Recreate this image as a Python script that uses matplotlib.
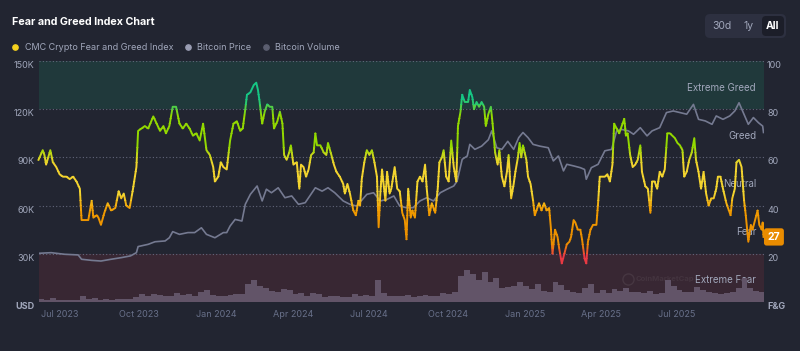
import matplotlib
matplotlib.use("Agg")
import matplotlib.pyplot as plt
import matplotlib.transforms as mtransforms
import pandas as pd
from matplotlib.colors import LinearSegmentedColormap
from matplotlib.lines import Line2D
from matplotlib.patches import FancyBboxPatch, Rectangle

plt.rcParams['font.family'] = ['Inter', 'DejaVu Sans']

# ---------------- data ----------------
fg_dates = [
    '2023-06-28', '2023-07-03', '2023-07-05', '2023-07-07', '2023-07-12', '2023-07-15', '2023-07-19',
    '2023-07-23', '2023-07-27', '2023-07-31', '2023-08-04', '2023-08-08', '2023-08-12', '2023-08-16',
    '2023-08-18', '2023-08-22', '2023-08-26', '2023-08-30', '2023-09-01', '2023-09-05', '2023-09-07',
    '2023-09-10', '2023-09-14', '2023-09-18', '2023-09-22', '2023-09-27', '2023-10-01', '2023-10-04',
    '2023-10-07', '2023-10-10', '2023-10-14', '2023-10-18', '2023-10-22', '2023-10-24', '2023-10-28',
    '2023-11-01', '2023-11-05', '2023-11-11', '2023-11-15', '2023-11-19', '2023-11-23', '2023-11-26',
    '2023-11-30', '2023-12-04', '2023-12-08', '2023-12-12', '2023-12-16', '2023-12-20', '2023-12-24',
    '2023-12-28', '2024-01-01', '2024-01-05', '2024-01-09', '2024-01-13', '2024-01-17', '2024-01-21',
    '2024-01-23', '2024-01-27', '2024-01-30', '2024-02-02', '2024-02-06', '2024-02-10', '2024-02-14',
    '2024-02-18', '2024-02-22', '2024-02-25', '2024-02-28', '2024-03-01', '2024-03-05', '2024-03-09',
    '2024-03-12', '2024-03-14', '2024-03-16', '2024-03-19', '2024-03-22', '2024-03-25', '2024-03-28',
    '2024-03-31', '2024-04-02', '2024-04-06', '2024-04-09', '2024-04-12', '2024-04-14', '2024-04-17',
    '2024-04-20', '2024-04-22', '2024-04-25', '2024-04-29', '2024-05-02', '2024-05-04', '2024-05-07',
    '2024-05-10', '2024-05-13', '2024-05-16', '2024-05-19', '2024-05-21', '2024-05-23', '2024-05-27',
    '2024-05-31', '2024-06-03', '2024-06-05', '2024-06-09', '2024-06-12', '2024-06-15', '2024-06-19',
    '2024-06-23', '2024-06-25', '2024-06-28', '2024-07-01', '2024-07-05', '2024-07-08', '2024-07-11',
    '2024-07-13', '2024-07-15', '2024-07-18', '2024-07-21', '2024-07-24', '2024-07-27', '2024-07-30',
    '2024-08-02', '2024-08-04', '2024-08-06', '2024-08-08', '2024-08-12', '2024-08-14', '2024-08-17',
    '2024-08-19', '2024-08-23', '2024-08-26', '2024-08-29', '2024-09-01', '2024-09-04', '2024-09-06',
    '2024-09-08', '2024-09-11', '2024-09-13', '2024-09-16', '2024-09-19', '2024-09-22', '2024-09-25',
    '2024-09-28', '2024-09-30', '2024-10-03', '2024-10-06', '2024-10-10', '2024-10-13', '2024-10-15',
    '2024-10-18', '2024-10-20', '2024-10-23', '2024-10-26', '2024-10-29', '2024-11-01', '2024-11-04',
    '2024-11-06', '2024-11-09', '2024-11-11', '2024-11-14', '2024-11-18', '2024-11-20', '2024-11-23',
    '2024-11-25', '2024-11-28', '2024-12-01', '2024-12-04', '2024-12-07', '2024-12-09', '2024-12-12',
    '2024-12-15', '2024-12-17', '2024-12-20', '2024-12-23', '2024-12-25', '2024-12-28', '2024-12-31',
    '2025-01-03', '2025-01-05', '2025-01-08', '2025-01-11', '2025-01-13', '2025-01-16', '2025-01-18',
    '2025-01-20', '2025-01-22', '2025-01-26', '2025-01-28', '2025-01-31', '2025-02-03', '2025-02-05',
    '2025-02-08', '2025-02-10', '2025-02-13', '2025-02-16', '2025-02-19', '2025-02-22', '2025-02-24',
    '2025-02-26', '2025-03-01', '2025-03-04', '2025-03-06', '2025-03-09', '2025-03-12', '2025-03-15',
    '2025-03-18', '2025-03-20', '2025-03-23', '2025-03-25', '2025-03-28', '2025-03-31', '2025-04-02',
    '2025-04-05', '2025-04-07', '2025-04-09', '2025-04-12', '2025-04-15', '2025-04-19', '2025-04-21',
    '2025-04-23', '2025-04-26', '2025-04-29', '2025-05-02', '2025-05-05', '2025-05-08', '2025-05-10',
    '2025-05-13', '2025-05-16', '2025-05-19', '2025-05-22', '2025-05-24', '2025-05-26', '2025-05-29',
    '2025-06-01', '2025-06-04', '2025-06-07', '2025-06-10', '2025-06-12', '2025-06-16', '2025-06-19',
    '2025-06-22', '2025-06-24', '2025-06-27', '2025-06-30', '2025-07-03', '2025-07-06', '2025-07-09',
    '2025-07-12', '2025-07-15', '2025-07-18', '2025-07-21', '2025-07-24', '2025-07-27', '2025-07-30',
    '2025-08-01', '2025-08-04', '2025-08-07', '2025-08-10', '2025-08-13', '2025-08-15', '2025-08-18',
    '2025-08-21', '2025-08-24', '2025-08-27', '2025-08-30', '2025-09-02', '2025-09-05', '2025-09-08',
    '2025-09-10', '2025-09-13', '2025-09-16', '2025-09-20', '2025-09-22', '2025-09-25', '2025-09-27',
    '2025-09-30', '2025-10-02', '2025-10-05', '2025-10-08', '2025-10-11', '2025-10-13', '2025-10-16',
    '2025-10-19', '2025-10-21', '2025-10-24', '2025-10-27', '2025-10-29', '2025-11-01', '2025-11-02',
    '2025-11-03',
]
fg_values = [
    59, 63, 61, 57, 63, 58, 56, 53, 52, 52, 51, 52, 50, 47,
    34, 34, 34, 42, 35, 36, 35, 32, 37, 41, 38, 39, 46, 43,
    45, 40, 39, 47, 56, 71, 72, 73, 72, 77, 74, 71, 73, 70,
    73, 81, 81, 74, 72, 74, 72, 69, 70, 67, 74, 63, 61, 56,
    50, 52, 58, 56, 55, 67, 74, 75, 71, 72, 80, 86, 87, 90,
    91, 88, 83, 74, 79, 82, 81, 81, 72, 75, 79, 74, 61, 59,
    62, 65, 57, 58, 47, 57, 56, 52, 55, 61, 62, 70, 65, 65,
    62, 61, 66, 61, 57, 54, 52, 49, 45, 49, 45, 38, 36, 42,
    40, 51, 58, 63, 61, 63, 58, 52, 31, 45, 55, 42, 54, 45,
    47, 56, 47, 46, 37, 34, 26, 47, 35, 38, 35, 50, 52, 50,
    57, 47, 36, 41, 37, 47, 58, 60, 63, 52, 50, 67, 56, 50,
    73, 79, 86, 83, 83, 88, 85, 80, 83, 81, 83, 81, 73, 78,
    81, 74, 62, 57, 63, 52, 48, 54, 61, 43, 49, 54, 60, 66,
    60, 65, 59, 52, 49, 42, 36, 39, 41, 38, 41, 38, 39, 31,
    20, 30, 27, 22, 16, 20, 24, 25, 27, 34, 33, 30, 30, 26,
    18, 16, 25, 30, 32, 32, 41, 52, 52, 52, 53, 50, 57, 74,
    72, 70, 73, 76, 69, 70, 61, 56, 57, 59, 65, 54, 48, 47,
    37, 50, 50, 47, 54, 52, 55, 70, 70, 69, 68, 66, 65, 63,
    52, 54, 59, 62, 68, 59, 54, 47, 54, 45, 40, 43, 43, 47,
    52, 52, 47, 41, 39, 36, 43, 47, 58, 59, 56, 42, 36, 25,
    32, 30, 34, 38, 32, 30, 33, 27,
]

price_dates = [
    '2023-06-28', '2023-07-13', '2023-07-29', '2023-08-14', '2023-08-18', '2023-08-30', '2023-09-10',
    '2023-09-22', '2023-10-04', '2023-10-15', '2023-10-22', '2023-10-24', '2023-11-05', '2023-11-13',
    '2023-11-25', '2023-11-30', '2023-12-04', '2023-12-12', '2023-12-22', '2023-12-30', '2024-01-07',
    '2024-01-13', '2024-01-23', '2024-02-02', '2024-02-06', '2024-02-10', '2024-02-16', '2024-02-24',
    '2024-02-28', '2024-03-05', '2024-03-13', '2024-03-19', '2024-03-24', '2024-03-30', '2024-04-07',
    '2024-04-15', '2024-04-23', '2024-05-01', '2024-05-09', '2024-05-21', '2024-05-29', '2024-06-05',
    '2024-06-13', '2024-06-23', '2024-07-01', '2024-07-09', '2024-07-21', '2024-07-29', '2024-08-06',
    '2024-08-14', '2024-08-22', '2024-08-29', '2024-09-06', '2024-09-14', '2024-09-22', '2024-09-30',
    '2024-10-08', '2024-10-16', '2024-10-24', '2024-11-01', '2024-11-05', '2024-11-11', '2024-11-17',
    '2024-11-20', '2024-11-26', '2024-12-04', '2024-12-12', '2024-12-16', '2024-12-22', '2024-12-28',
    '2025-01-04', '2025-01-11', '2025-01-17', '2025-01-22', '2025-01-28', '2025-02-03', '2025-02-11',
    '2025-02-21', '2025-02-27', '2025-03-05', '2025-03-11', '2025-03-15', '2025-03-23', '2025-03-31',
    '2025-04-05', '2025-04-07', '2025-04-13', '2025-04-21', '2025-04-29', '2025-05-07', '2025-05-13',
    '2025-05-19', '2025-05-27', '2025-06-02', '2025-06-10', '2025-06-18', '2025-06-24', '2025-07-03',
    '2025-07-11', '2025-07-19', '2025-07-27', '2025-08-04', '2025-08-12', '2025-08-18', '2025-08-26',
    '2025-09-03', '2025-09-08', '2025-09-16', '2025-09-24', '2025-09-30', '2025-10-05', '2025-10-10',
    '2025-10-16', '2025-10-22', '2025-10-28', '2025-11-02', '2025-11-03',
]
# thousand USD
price_values = [
    30.3, 30.7, 29.7, 29.3, 26.6, 25.9, 25.5, 26.6, 27.6, 28.7, 30.7, 34.5, 35.9, 37.5,
    38.0, 40.0, 43.8, 42.1, 43.2, 43.2, 46.2, 42.1, 40.0, 43.2, 43.2, 47.3, 51.4, 50.4,
    60.8, 67.0, 72.2, 62.9, 70.2, 68.0, 71.1, 64.9, 66.0, 60.8, 61.8, 71.1, 69.0, 71.1,
    68.0, 62.9, 60.8, 59.7, 67.0, 68.0, 62.9, 63.9, 66.0, 59.7, 58.7, 58.7, 62.9, 64.9,
    62.9, 68.0, 70.2, 72.2, 75.3, 88.8, 90.9, 98.1, 95.0, 97.0, 101.0, 106.5, 96.0, 95.0,
    100.0, 95.0, 102.3, 105.5, 102.3, 98.1, 97.0, 96.0, 87.8, 90.9, 81.6, 85.7, 84.7, 83.6,
    82.5, 76.4, 83.6, 85.7, 94.1, 95.0, 106.5, 107.4, 106.5, 104.4, 108.5, 103.4, 106.5, 108.5,
    117.9, 118.9, 117.9, 116.9, 123.0, 113.7, 112.7, 110.6, 115.8, 113.7, 115.8, 118.9, 124.0, 117.9,
    110.6, 114.8, 111.6, 109.5, 105.5,
]

# weekly volume, billion USD, weeks starting 2023-06-28
volume_start = '2023-06-28'
volume_values = [
    9, 6, 12, 6, 6, 6, 6, 18, 9, 12,
    6, 9, 6, 9, 9, 9, 15, 24, 18, 24,
    21, 18, 18, 27, 21, 24, 18, 30, 36, 21,
    18, 18, 21, 24, 24, 54, 66, 48, 42, 33,
    30, 39, 36, 24, 27, 18, 27, 24, 15, 18,
    18, 15, 15, 24, 18, 21, 18, 66, 27, 18,
    18, 18, 21, 15, 18, 21, 18, 18, 27, 24,
    30, 78, 96, 84, 66, 90, 60, 72, 42, 45,
    48, 60, 48, 39, 54, 33, 30, 60, 51, 36,
    30, 27, 42, 54, 27, 36, 27, 39, 33, 42,
    30, 30, 27, 33, 24, 27, 66, 48, 36, 30,
    30, 45, 36, 30, 27, 24, 27, 30, 42, 72,
    42, 33, 30,
]

zone_names = ['Extreme Fear', 'Fear', 'Neutral', 'Greed', 'Extreme Greed']
zone_mid = [9, 29, 49, 69, 89]
fg_ticks = [0, 20, 40, 60, 80, 100]
fg_tick_labels = ['F&G', '20', '40', '60', '80', '100']
price_ticks = [0, 30, 60, 90, 120, 150]
price_tick_labels = ['USD', '30K', '60K', '90K', '120K', '150K']
date_ticks = ['2023-07-01', '2023-10-01', '2024-01-01', '2024-04-01', '2024-07-01',
              '2024-10-01', '2025-01-01', '2025-04-01', '2025-07-01']
date_labels = ['Jul 2023', 'Oct 2023', 'Jan 2024', 'Apr 2024', 'Jul 2024',
               'Oct 2024', 'Jan 2025', 'Apr 2025', 'Jul 2025']
latest_value = 27

# ---------------- style ----------------
BG = '#222531'
GREED_BAND = '#20393b'
FEAR_BAND = '#382733'
GRID = '#62667a'
LABEL = '#a1a7bb'
DATE_LABEL = '#687089'
PRICE_COLOR = '#757a91'
VOLUME_COLOR = '#625468'

fg_cmap = LinearSegmentedColormap.from_list('fg', [
    (0.00, '#ea3943'), (0.19, '#ea3943'), (0.24, '#ea8c00'), (0.38, '#f09a00'),
    (0.45, '#f3d42f'), (0.58, '#f3d42f'), (0.65, '#93d900'), (0.78, '#93d900'),
    (0.84, '#16c784'), (1.00, '#16c784'),
])

fg_x = pd.to_datetime(fg_dates)
price_x = pd.to_datetime(price_dates)
vol_x = pd.date_range(volume_start, periods=len(volume_values), freq='7D')
x_lo = pd.Timestamp('2023-06-28 14:00')
x_hi = pd.Timestamp('2025-11-03 14:00')

fig = plt.figure(figsize=(8, 3.51), dpi=100, facecolor=BG)
rect = [39 / 800, 1 - 302 / 351, 725 / 800, 241 / 351]

# background axis: zones, grid, F&G scale on the right, dates
ax = fig.add_axes(rect)
ax.set_facecolor(BG)
ax.set_xlim(x_lo, x_hi)
ax.set_ylim(0, 100)
ax.axhspan(80, 100, color=GREED_BAND, lw=0)
ax.axhspan(0, 20, color=FEAR_BAND, lw=0)
for t in fg_ticks:
    ax.axhline(t, color=GRID, lw=0.8, ls=(0, (1, 2)))
for s in ax.spines.values():
    s.set_visible(False)
ax.set_xticks(pd.to_datetime(date_ticks))
ax.set_xticklabels(date_labels, ha='left')
ax.tick_params(axis='x', length=0, pad=6, labelsize=6.5, labelcolor=DATE_LABEL)

zone_tf = mtransforms.blended_transform_factory(ax.transAxes, ax.transData)
for name, mid in zip(zone_names, zone_mid):
    ax.text(0.989, mid, name, transform=zone_tf, ha='right', va='center',
            color=LABEL, fontsize=7)

# faint watermark, kept clear of the zone label
ax.plot([0.812], [9.5], transform=zone_tf, marker='o', ms=8, mfc='none',
        mec='white', mew=1.0, alpha=0.07)
ax.text(0.823, 9.5, 'CoinMarketCap', transform=zone_tf, color='white', alpha=0.06,
        fontsize=5.5, fontweight='bold', ha='left', va='center')

# volume
axv = ax.twinx()
axv.set_ylim(0, 723)
axv.bar(vol_x, volume_values, width=7.0, align='edge', color=VOLUME_COLOR, lw=0)
axv.axis('off')

# bitcoin price, left scale
axp = ax.twinx()
axp.set_ylim(0, 150)
axp.plot(price_x, price_values, color=PRICE_COLOR, lw=1.2)
for s in axp.spines.values():
    s.set_visible(False)
axp.yaxis.set_ticks_position('left')
axp.yaxis.set_label_position('left')
axp.set_yticks(price_ticks)
axp.set_yticklabels(price_tick_labels)
axp.tick_params(axis='y', length=0, pad=3, labelsize=6.5, labelcolor=LABEL)
for lab in axp.get_yticklabels():
    lab.set_va('top')
axp.get_yticklabels()[0].set_fontweight('bold')

# fear & greed line, coloured by its own value
axf = ax.twinx()
axf.set_ylim(0, 100)
axf.axis('off')
band_tf = mtransforms.blended_transform_factory(axf.transAxes, axf.transData)
step = 2
for lo in range(0, 100, step):
    ln, = axf.plot(fg_x, fg_values, color=fg_cmap((lo + step / 2) / 100), lw=1.4,
                   solid_joinstyle='round')
    clip = Rectangle((-0.01, lo - 0.15), 1.02, step + 0.3, transform=band_tf)
    ln.set_clip_path(clip)

axf.text(1.005, latest_value, str(latest_value), transform=band_tf, ha='left', va='center',
         color='white', fontsize=7.5, fontweight='bold', clip_on=False,
         bbox=dict(boxstyle='round,pad=0.35,rounding_size=0.25', fc='#ea8c00', ec='none'))

# F&G scale on the right (twinx moved it, so set it after the twins)
ax.yaxis.set_ticks_position('right')
ax.yaxis.set_label_position('right')
ax.set_yticks(fg_ticks)
ax.set_yticklabels(fg_tick_labels)
ax.tick_params(axis='y', length=0, pad=2.2, labelsize=6.5, labelcolor=LABEL,
               labelleft=False, labelright=True)
for lab in ax.get_yticklabels():
    lab.set_va('top')
ax.get_yticklabels()[0].set_fontweight('bold')

# title and legend
fig.text(12 / 800, 1 - 22 / 351, 'Fear and Greed Index Chart', color='white',
         fontsize=7.7, fontweight='bold', va='center')
legend = [(15, 25, '#f6d21e', 'CMC Crypto Fear and Greed Index'),
          (188, 197, '#9a9db3', 'Bitcoin Price'),
          (266, 275, '#5b5e70', 'Bitcoin Volume')]
for dx, tx, col, name in legend:
    fig.add_artist(Line2D([dx / 800], [1 - 47 / 351], marker='o', ms=3.8, color=col,
                          lw=0, transform=fig.transFigure))
    fig.text(tx / 800, 1 - 47 / 351, name, color=LABEL, fontsize=6.5, va='center')

# range buttons
ident = mtransforms.IdentityTransform()
fig.add_artist(FancyBboxPatch((705, 351 - 38), 81, 24, boxstyle='round,pad=0,rounding_size=5',
                              fc='#2d3040', ec='none', transform=ident))
fig.add_artist(FancyBboxPatch((762, 351 - 36), 22, 20, boxstyle='round,pad=0,rounding_size=4',
                              fc='#1c1e29', ec='none', transform=ident))
for bx, txt, col, wt in [(722, '30d', LABEL, 'normal'), (749, '1y', LABEL, 'normal'),
                         (773, 'All', 'white', 'bold')]:
    fig.text(bx / 800, 1 - 26 / 351, txt, color=col, fontsize=7.5, fontweight=wt,
             ha='center', va='center')

fig.savefig('out.png', dpi=100, facecolor=BG)
